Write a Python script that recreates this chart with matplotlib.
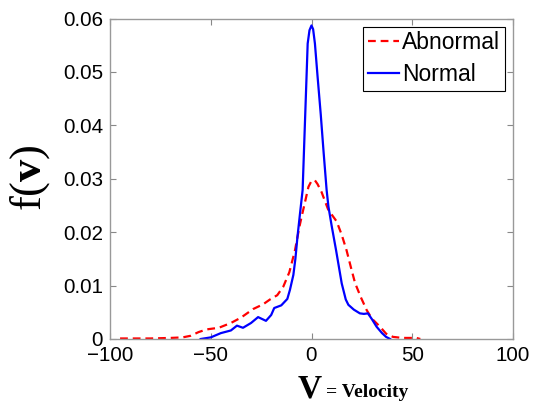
import numpy as np
import matplotlib
matplotlib.use("Agg")
import matplotlib.pyplot as plt

# velocity grid / density
normal_v = [-55, -50, -45, -40, -37, -34, -30, -26.5, -22.6, -20, -18.5, -15, -12,
            -10.7, -9, -8, -7, -5.7, -4.4, -3.5, -2.5, -1.9, -1, 0, 0.8, 1.7, 3,
            4.6, 6, 7.5, 8.4, 10, 12.2, 15, 17, 18.3, 21, 24, 26, 28, 30, 32.3,
            35, 37, 39]
normal_f = [0, 0.0003, 0.0011, 0.0016, 0.0025, 0.0021, 0.0030, 0.0041, 0.0034,
            0.0045, 0.0058, 0.0063, 0.0075, 0.0092, 0.0120, 0.0150, 0.0190,
            0.0235, 0.0279, 0.0378, 0.0487, 0.0553, 0.0578, 0.0587, 0.0580,
            0.0553, 0.0492, 0.0420, 0.0350, 0.0279, 0.0248, 0.0212, 0.0166,
            0.0104, 0.0074, 0.0064, 0.0055, 0.0048, 0.0047, 0.0048, 0.0037,
            0.0023, 0.0011, 0.0004, 0]

abnormal_v = [-95, -80, -70, -64, -60, -56, -52, -46, -40, -35, -29, -24, -20.6,
              -17, -14, -11, -8.2, -6, -4.9, -3, -1.5, 0, 1.7, 3, 5, 7, 8.2, 10,
              12.5, 15, 17.4, 19.5, 21.6, 24.5, 27.4, 30, 34, 37, 40.4, 45, 52, 54]
abnormal_f = [0.0001, 0.0001, 0.0002, 0.0003, 0.0006, 0.0013, 0.0018, 0.0021,
              0.0030, 0.0040, 0.0056, 0.0065, 0.0074, 0.0082, 0.0098, 0.0125,
              0.0166, 0.0210, 0.0229, 0.0260, 0.0285, 0.0296, 0.0297, 0.0290,
              0.0275, 0.0255, 0.0243, 0.0233, 0.0220, 0.0195, 0.0166, 0.0135,
              0.0105, 0.0078, 0.0054, 0.0038, 0.0023, 0.0010, 0.0004, 0.0002,
              0.0002, 0]

xticks = [-100, -50, 0, 50, 100]
yticks = [0, 0.01, 0.02, 0.03, 0.04, 0.05, 0.06]
ytick_labels = ["0", "0.01", "0.02", "0.03", "0.04", "0.05", "0.06"]

plt.rcParams["font.family"] = "Liberation Sans"
plt.rcParams["mathtext.fontset"] = "custom"
plt.rcParams["mathtext.rm"] = "Liberation Serif"
plt.rcParams["mathtext.bf"] = "Liberation Serif:bold"

fig = plt.figure(figsize=(5.35, 4.04), dpi=100)
ax = fig.add_axes([110 / 535, 1 - 339 / 404, 403 / 535, 320.5 / 404])

ax.plot(abnormal_v, abnormal_f, color="#ff0000", ls=(0, (3.5, 2.2)), lw=1.6, label="Abnormal")
ax.plot(normal_v, normal_f, color="#0000ff", lw=1.6, label="Normal")

ax.set_xlim(-100, 100)
ax.set_ylim(0, 0.06)
ax.set_xticks(xticks)
ax.set_yticks(yticks)
ax.set_yticklabels(ytick_labels)
ax.tick_params(direction="in", length=4, width=0.8, color="#888888",
               labelsize=14.8, top=True, right=True)
ax.tick_params(axis="x", pad=5)
ax.tick_params(axis="y", pad=5)
for s in ax.spines.values():
    s.set_color("#999999")
    s.set_linewidth(1.0)

leg = ax.legend(loc="upper right", fontsize=16.5, handlelength=1.35, handletextpad=0.15,
                borderpad=0.2, labelspacing=0.4, borderaxespad=0.35, fancybox=False,
                framealpha=1, edgecolor="black")
leg.get_frame().set_linewidth(0.8)

fig.text(30 / 535, 1 - 178 / 404, r"$\mathrm{f(}\mathbf{v}\mathrm{)}$", rotation=90,
         ha="center", va="center", fontsize=32)
fig.text(310 / 535, 1 - 398 / 404, r"$\mathbf{V}$", ha="center", va="baseline", fontsize=24)
fig.text(326 / 535, 1 - 397 / 404, "= Velocity", ha="left", va="baseline", fontsize=14,
         family="Liberation Serif", weight="bold")

fig.savefig("out.png", dpi=100)
